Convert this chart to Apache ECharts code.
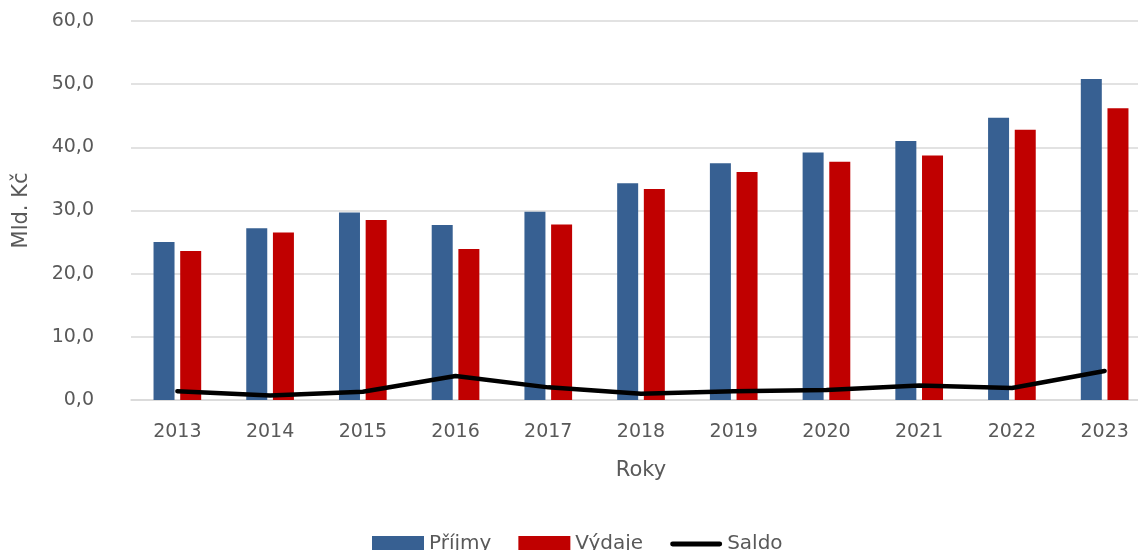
<!DOCTYPE html>
<html>
<head>
<meta charset="utf-8">
<script src="https://cdn.jsdelivr.net/npm/echarts@6/dist/echarts.min.js"></script>
<style>
  html, body { margin: 0; padding: 0; background: #fff; }
  #chart { width: 1138px; height: 550px; }
</style>
</head>
<body>
<div id="chart"></div>
<script>
// Roční příjmy, výdaje a saldo (mld. Kč)
const years = ['2013','2014','2015','2016','2017','2018','2019','2020','2021','2022','2023'];
const prijmy = [25.0, 27.2, 29.7, 27.7, 29.8, 34.3, 37.5, 39.2, 41.0, 44.7, 50.8];
const vydaje = [23.6, 26.5, 28.5, 23.9, 27.8, 33.4, 36.1, 37.7, 38.7, 42.8, 46.2];
const saldo  = [1.4, 0.7, 1.3, 3.8, 2.0, 1.0, 1.4, 1.6, 2.3, 1.9, 4.6];

const textColor = '#595959';
const font = 'DejaVu Sans';

// capsule-shaped icon for the line series in the legend
const lineIcon = 'path://M2,0 L50,0 A2.5,2.5 0 0 1 50,5 L2,5 A2.5,2.5 0 0 1 2,0 Z';

const chart = echarts.init(document.getElementById('chart'), null, { renderer: 'canvas' });
chart.setOption({
  animation: false,
  backgroundColor: '#ffffff',
  // the plot area runs slightly past the right edge of the canvas
  grid: { left: 131, right: -13, top: 21, bottom: 150, containLabel: false, outerBoundsMode: 'none' },
  legend: {
    top: 534,
    left: 372,
    padding: 0,
    itemGap: 27,
    itemWidth: 52,
    itemHeight: 16,
    textStyle: { color: textColor, fontSize: 20, fontFamily: font },
    data: [
      { name: 'Příjmy', icon: 'rect' },
      { name: 'Výdaje', icon: 'rect' },
      { name: 'Saldo', icon: lineIcon }
    ]
  },
  xAxis: {
    type: 'category',
    data: years,
    name: 'Roky',
    nameLocation: 'middle',
    nameGap: 60,
    nameTextStyle: { color: textColor, fontSize: 21, fontFamily: font },
    axisLine: { show: true, lineStyle: { color: '#d9d9d9', width: 1.5 } },
    axisTick: { show: false },
    axisLabel: { color: textColor, fontSize: 19, fontFamily: font, margin: 23 }
  },
  yAxis: {
    type: 'value',
    min: 0,
    max: 60,
    interval: 10,
    name: 'Mld. Kč',
    nameLocation: 'middle',
    nameGap: 99,
    nameRotate: 90,
    nameTextStyle: { color: textColor, fontSize: 21, fontFamily: font },
    axisLine: { show: false },
    axisTick: { show: false },
    splitLine: { lineStyle: { color: '#d9d9d9', width: 1.5 } },
    axisLabel: {
      color: textColor, fontSize: 19, fontFamily: font, margin: 37,
      formatter: v => v.toFixed(1).replace('.', ',')
    }
  },
  series: [
    {
      name: 'Příjmy',
      type: 'bar',
      data: prijmy,
      barWidth: 21,
      barGap: '27%',
      itemStyle: { color: '#376092' }
    },
    {
      name: 'Výdaje',
      type: 'bar',
      data: vydaje,
      barWidth: 21,
      barGap: '27%',
      itemStyle: { color: '#C00000' }
    },
    {
      name: 'Saldo',
      type: 'line',
      data: saldo,
      symbol: 'none',
      z: 5,
      lineStyle: { color: '#000000', width: 4.5, cap: 'round', join: 'round' },
      itemStyle: { color: '#000000' }
    }
  ]
});
</script>
</body>
</html>
